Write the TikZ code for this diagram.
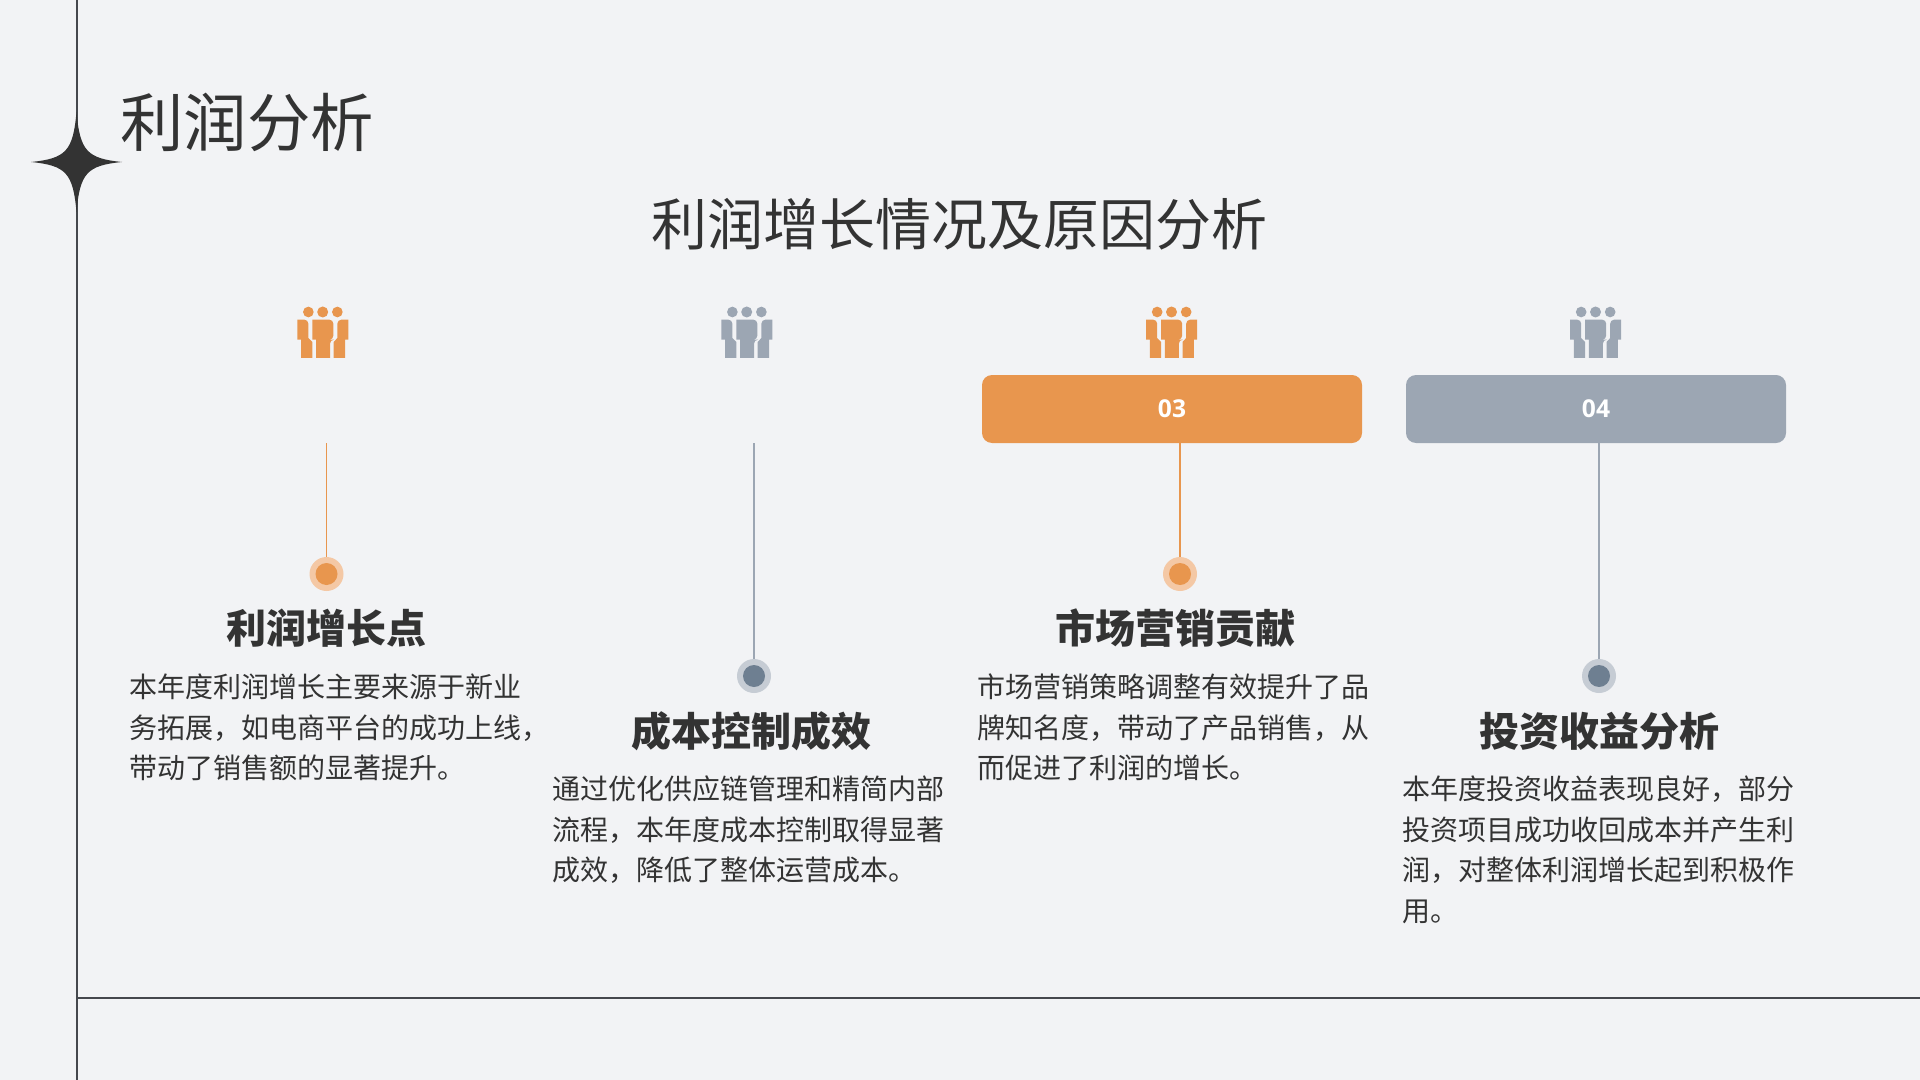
\documentclass[tikz,border=0pt]{standalone}
\usepackage{fontspec}
\setmainfont{Noto Sans CJK SC}
\newfontfamily\latinnum{Open Sans}
\definecolor{pagebg}{HTML}{F2F3F5}
\definecolor{ink}{HTML}{333333}
\definecolor{rulecol}{HTML}{45484D}
\definecolor{orangec}{HTML}{E8964E}
\definecolor{orangel}{HTML}{F4C8A5}
\definecolor{greyc}{HTML}{9CA6B3}
\definecolor{greyd}{HTML}{6E7F91}
\definecolor{greyl}{HTML}{C6CCD4}
\tikzset{
  pagerule/.style={draw=rulecol,line width=1pt},
  title/.style={inner sep=0pt,text=ink,anchor=center,font=\fontsize{31.7}{36}\selectfont},
  subtitle/.style={inner sep=0pt,text=ink,anchor=center,font=\fontsize{28}{32}\selectfont},
  heading/.style={inner sep=0pt,text=ink,anchor=center,font=\fontsize{20}{24}\selectfont\bfseries},
  bodytext/.style={inner sep=0pt,text=ink,anchor=north west,align=left,font=\fontsize{14}{20.25}\selectfont},
  numbox/.style={inner sep=0pt,rounded corners=5pt,minimum width=190pt,minimum height=34pt,text=white,font=\latinnum\bfseries\fontsize{12.3}{14}\selectfont},
  halo/.style={circle,inner sep=0pt,minimum size=17pt},
  stem/.style={line width=0.6pt},
  people/.pic={
    \fill (-43,0) circle (16);
    \fill (0,0) circle (16.5);
    \fill (44,0) circle (16);
    \fill[rounded corners=2pt] (-31,23) -- (32,23) -- (32,83) -- (22,83) [sharp corners] -- (22,138) -- (-20,138) -- (-20,83) -- (-31,83) -- cycle;
    \fill[rounded corners=2pt] (-76,23) -- (-43,23) [sharp corners] -- (-43,78) -- (-31,90) -- (-31,138) -- (-65,138) -- (-65,83) -- (-76,83) -- cycle;
    \fill[rounded corners=2pt] (77,23) -- (44,23) [sharp corners] -- (44,78) -- (33,90) -- (33,138) -- (67,138) -- (67,83) -- (77,83) -- cycle;
  },
}
\begin{document}
\begin{tikzpicture}[x=0.5pt,y=-0.5pt]
\useasboundingbox (0,0) rectangle (1920,1080);
\fill[pagebg] (0,0) rectangle (1920,1080);

% frame lines and star
\coordinate (vtop) at (76.5,0);
\coordinate (vbot) at (76.5,1080);
\coordinate (hleft) at (76.5,998);
\coordinate (hright) at (1920,998);
\draw[pagerule] (vtop) -- (vbot);
\draw[pagerule] (hleft) -- (hright);
\fill[ink] (31,162)
  .. controls (66,158.5) and (73,151) .. (76.5,112)
  .. controls (80,151) and (87,158.5) .. (122,162)
  .. controls (87,165.5) and (80,173) .. (76.5,212)
  .. controls (73,173) and (66,165.5) .. (31,162) -- cycle;

% titles
\node[title] (maintitle) at (247,122) {利润分析};
\node[subtitle] (subtitlenode) at (959.5,224) {利润增长情况及原因分析};

% icons
\pic[orangec,scale=0.3333] at (322.7,312) {people};
\pic[greyc,scale=0.3333] at (746.7,312) {people};
\pic[orangec,scale=0.3333] at (1171.5,312) {people};
\pic[greyc,scale=0.3333] at (1595.5,312) {people};

% number boxes
\node[numbox,fill=orangec] (box3) at (1172,409) {03};
\node[numbox,fill=greyc] (box4) at (1596,409) {04};

% dots
\node[halo,fill=orangel] (dot1) at (326.5,574) {};
\node[halo,fill=greyl] (dot2) at (754,676) {};
\node[halo,fill=orangel] (dot3) at (1180,574) {};
\node[halo,fill=greyl] (dot4) at (1599,676) {};
\fill[orangec] (dot1) circle (11);
\fill[greyd] (dot2) circle (11);
\fill[orangec] (dot3) circle (11);
\fill[greyd] (dot4) circle (11);

% stems
\coordinate (stem1) at (326.5,443);
\coordinate (stem2) at (754,443);
\coordinate (stem3) at (1180,443);
\coordinate (stem4) at (1599,443);
\draw[stem,draw=orangec] (stem1) -- (dot1);
\draw[stem,draw=greyc] (stem2) -- (dot2);
\draw[stem,draw=orangec] (stem3) -- (dot3);
\draw[stem,draw=greyc] (stem4) -- (dot4);

% headings
\node[heading] (head1) at (326,628) {利润增长点};
\node[heading] (head2) at (751,731) {成本控制成效};
\node[heading] (head3) at (1175,628) {市场营销贡献};
\node[heading] (head4) at (1599,731) {投资收益分析};

% body
\node[bodytext] (text1) at (129,673.5) {本年度利润增长主要来源于新业\\务拓展，如电商平台的成功上线，\\带动了销售额的显著提升。};
\node[bodytext] (text2) at (552,775.5) {通过优化供应链管理和精简内部\\流程，本年度成本控制取得显著\\成效，降低了整体运营成本。};
\node[bodytext] (text3) at (977,673.5) {市场营销策略调整有效提升了品\\牌知名度，带动了产品销售，从\\而促进了利润的增长。};
\node[bodytext] (text4) at (1402,775.5) {本年度投资收益表现良好，部分\\投资项目成功收回成本并产生利\\润，对整体利润增长起到积极作\\用。};
\end{tikzpicture}
\end{document}
